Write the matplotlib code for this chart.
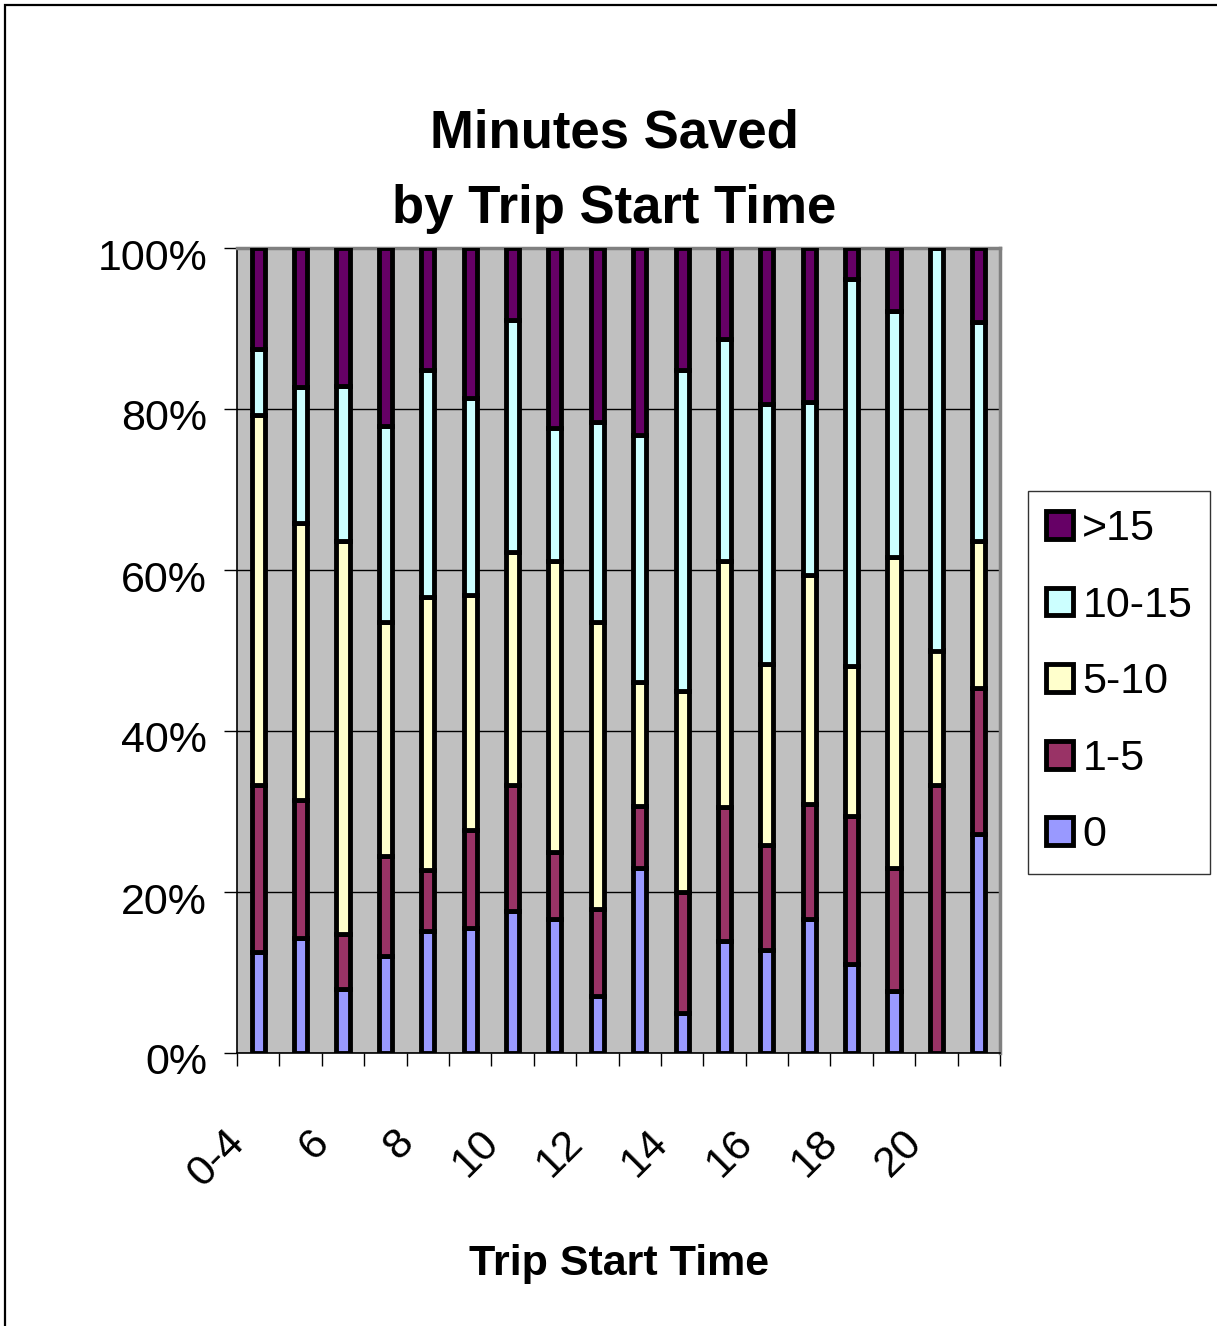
import numpy as np
import matplotlib
matplotlib.use('Agg')
import matplotlib.pyplot as plt
import matplotlib.transforms as mtransforms
from matplotlib.patches import Rectangle

plt.rcParams['font.family'] = ['Liberation Sans', 'DejaVu Sans']

# Categorias (hora de inicio del viaje)
horas = ['0-4', '5', '6', '7', '8', '9', '10', '11', '12', '13', '14',
         '15', '16', '17', '18', '19', '20', '21']

# Porcentajes por grupo de minutos ahorrados (cada barra suma 100)
cero = [12.5, 14.3, 8.0, 12.0, 15.2, 15.5, 17.7, 16.7, 7.1, 23.0, 5.0,
        13.9, 12.8, 16.6, 11.1, 7.7, 0.0, 27.2]
uno_cinco = [20.8, 17.1, 6.8, 12.5, 7.5, 12.2, 15.6, 8.3, 10.8, 7.7, 15.0,
             16.6, 13.0, 14.3, 18.4, 15.3, 33.3, 18.2]
cinco_diez = [45.9, 34.5, 48.8, 29.0, 33.9, 29.2, 28.9, 36.1, 35.6, 15.4, 25.0,
              30.6, 22.5, 28.5, 18.6, 38.6, 16.7, 18.2]
diez_quince = [8.3, 16.8, 19.3, 24.4, 28.2, 24.5, 28.8, 16.6, 24.9, 30.7, 39.9,
               27.6, 32.3, 21.5, 48.1, 30.6, 50.0, 27.2]
mas_quince = [12.5, 17.3, 17.1, 22.1, 15.2, 18.6, 9.0, 22.3, 21.6, 23.2, 15.1,
              11.3, 19.4, 19.1, 3.8, 7.8, 0.0, 9.2]

series = [cero, uno_cinco, cinco_diez, diez_quince, mas_quince]
nombres = ['0', '1-5', '5-10', '10-15', '>15']
colores = ['#9999FF', '#993366', '#FFFFCC', '#CCFFFF', '#660066']

W, H = 1217, 1326
fig = plt.figure(figsize=(W / 100, H / 100), dpi=100)

# Borde del area del grafico (solo izquierda y arriba visibles)
fig.patches.append(Rectangle((5 / W, -0.1), 1.2, (H - 5) / H + 0.1,
                             transform=fig.transFigure, fill=False,
                             edgecolor='black', linewidth=1.6))

ax = fig.add_axes([237 / W, (H - 1053) / H, (1000 - 237) / W, (1053 - 248) / H])
ax.set_facecolor('#C0C0C0')

x = np.arange(len(horas))
abajo = np.zeros(len(horas))
for vals, nom, col in zip(series, nombres, colores):
    ax.bar(x, vals, width=0.31, bottom=abajo, color=col, edgecolor='black',
           linewidth=3.5, label=nom, zorder=3)
    abajo = abajo + np.array(vals)

ax.set_xlim(-0.5, len(horas) - 0.5)
ax.set_ylim(0, 100)

# Eje Y
ax.set_yticks([0, 20, 40, 60, 80, 100])
ax.set_yticklabels(['0%', '20%', '40%', '60%', '80%', '100%'], fontsize=31)
ax.tick_params(axis='y', direction='out', length=9.5, width=1.0, pad=12)
for lbl in ax.get_yticklabels():
    lbl.set_transform(lbl.get_transform() +
                      mtransforms.ScaledTranslation(0, -0.06, fig.dpi_scale_trans))
ax.yaxis.grid(True, color='black', linewidth=1.0, zorder=1)
ax.set_axisbelow(True)

# Eje X: marcas entre categorias, etiquetas cada dos
ax.set_xticks(x[::2])
ax.set_xticklabels(horas[::2], fontsize=31, rotation=45, ha='right', va='top')
ax.set_xticks(np.arange(-0.5, len(horas)), minor=True)
ax.tick_params(axis='x', which='major', length=0, pad=50)
ax.tick_params(axis='x', which='minor', direction='out', length=9.5, width=1.0)
for lbl in ax.get_xticklabels():
    lbl.set_transform(lbl.get_transform() +
                      mtransforms.ScaledTranslation(-0.06, 0, fig.dpi_scale_trans))

for lado in ['left', 'bottom']:
    ax.spines[lado].set_color('black')
    ax.spines[lado].set_linewidth(1.2)
for lado in ['top', 'right']:
    ax.spines[lado].set_color('#808080')
    ax.spines[lado].set_linewidth(2.5)

# Titulos
fig.text(614 / W, 1 - 109 / H, 'Minutes Saved\nby Trip Start Time', ha='center',
         va='top', fontsize=38, fontweight='bold', linespacing=1.65)
fig.text(619 / W, 1 - 1275 / H, 'Trip Start Time', ha='center', va='baseline',
         fontsize=31, fontweight='bold')

# Leyenda (orden inverso)
h, l = ax.get_legend_handles_labels()
leg = fig.legend(h[::-1], l[::-1], loc='upper left',
                 bbox_to_anchor=(1028 / W, 1 - 491 / H), fontsize=31,
                 frameon=True, fancybox=False, shadow=False,
                 handlelength=0.62, handleheight=0.62, handletextpad=0.22,
                 labelspacing=0.85, borderpad=0.42, borderaxespad=0)
leg.get_frame().set_edgecolor('black')
leg.get_frame().set_linewidth(1.0)

fig.savefig('out.png', dpi=100)
